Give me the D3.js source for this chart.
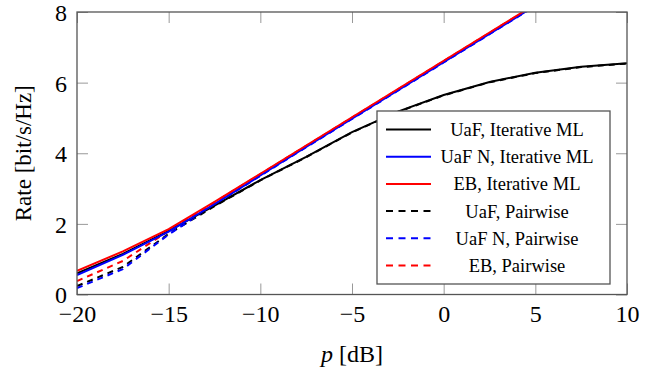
<!DOCTYPE html>
<html>
<head>
<meta charset="utf-8">
<script src="https://cdn.jsdelivr.net/npm/d3@7"></script>
<style>
  body { margin: 0; background: #fff; }
  text { font-family: "Liberation Serif", "Times New Roman", serif; }
</style>
</head>
<body>
<div id="chart"></div>
<script>
// SNR grid [dB]
var pdB = [-20, -17.5, -15, -12.5, -10, -7.5, -5, -2.5, 0, 2.5, 5, 7.5, 10];

// rates [bit/s/Hz]
var uafIter   = [0.60, 1.15, 1.80, 2.52, 3.24, 3.90, 4.60, 5.18, 5.65, 6.02, 6.28, 6.45, 6.55];
var uafNIter  = [0.55, 1.12, 1.78, 2.56, 3.37, 4.18, 4.98, 5.78, 6.58, 7.38, 8.18, 8.98, 9.78];
var ebIter    = [0.67, 1.22, 1.85, 2.62, 3.42, 4.22, 5.02, 5.82, 6.62, 7.42, 8.22, 9.02, 9.82];
var uafPair   = [0.24, 0.78, 1.72, 2.50, 3.23, 3.89, 4.59, 5.17, 5.64, 6.01, 6.27, 6.44, 6.54];
var uafNPair  = [0.18, 0.72, 1.70, 2.55, 3.36, 4.17, 4.97, 5.77, 6.57, 7.37, 8.17, 8.97, 9.77];
var ebPair    = [0.38, 0.95, 1.80, 2.61, 3.41, 4.21, 5.01, 5.81, 6.61, 7.41, 8.21, 9.01, 9.81];

var seriesNames = ["UaF, Iterative ML", "UaF N, Iterative ML", "EB, Iterative ML",
                   "UaF, Pairwise", "UaF N, Pairwise", "EB, Pairwise"];
var seriesVals = [uafIter, uafNIter, ebIter, uafPair, uafNPair, ebPair];
var seriesColors = ["#000", "#0000ff", "#ff0000", "#000", "#0000ff", "#ff0000"];
var seriesDashed = [false, false, false, true, true, true];

var xTicks = [-20, -15, -10, -5, 0, 5, 10];
var yTicks = [0, 2, 4, 6, 8];

var W = 662, H = 375;
var pL = 77, pR = 627, pT = 12, pB = 294.5;

var svg = d3.select("#chart").append("svg")
    .attr("width", W).attr("height", H);

var x = d3.scaleLinear().domain([-20, 10]).range([pL, pR]);
var y = d3.scaleLinear().domain([0, 8]).range([pB, pT]);

svg.append("defs").append("clipPath").attr("id", "clip")
  .append("rect")
  .attr("x", pL).attr("y", pT)
  .attr("width", pR - pL).attr("height", pB - pT);

var tickLen = 11;
var fmt = function(d) { return d < 0 ? "\u2212" + Math.abs(d) : "" + d; };

// bottom axis + inward ticks
var xb = svg.append("g")
    .attr("transform", "translate(0," + pB + ")")
    .call(d3.axisBottom(x).tickValues(xTicks).tickSize(-tickLen).tickPadding(10).tickFormat(fmt));
// top ticks
var xt = svg.append("g")
    .attr("transform", "translate(0," + pT + ")")
    .call(d3.axisTop(x).tickValues(xTicks).tickSize(-tickLen).tickFormat(""));
// left axis
var yl = svg.append("g")
    .attr("transform", "translate(" + pL + ",0)")
    .call(d3.axisLeft(y).tickValues(yTicks).tickSize(-tickLen).tickPadding(10).tickFormat(fmt));
// right ticks
var yr = svg.append("g")
    .attr("transform", "translate(" + pR + ",0)")
    .call(d3.axisRight(y).tickValues(yTicks).tickSize(-tickLen).tickFormat(""));

[xb, xt, yl, yr].forEach(function(g) {
  g.select(".domain").remove();
  g.selectAll(".tick line").attr("stroke", "#999").attr("stroke-width", 1);
  g.selectAll(".tick text")
    .style("font-family", "'Liberation Serif', serif")
    .style("font-size", "24px")
    .attr("fill", "#000");
});
yl.selectAll(".tick text").attr("dy", "0.35em");
xb.selectAll(".tick text").attr("dy", "0.71em");

var line = d3.line()
    .x(function(d, i) { return x(pdB[i]); })
    .y(function(d) { return y(d); });

var plot = svg.append("g").attr("clip-path", "url(#clip)");
// dashed first, solid on top
var order = [3, 4, 5, 0, 1, 2];
order.forEach(function(k) {
  plot.append("path")
    .datum(seriesVals[k])
    .attr("fill", "none")
    .attr("stroke", seriesColors[k])
    .attr("stroke-width", 2)
    .attr("stroke-dasharray", seriesDashed[k] ? "6,5" : null)
    .attr("d", line);
});

// frame
svg.append("rect")
  .attr("x", pL).attr("y", pT)
  .attr("width", pR - pL).attr("height", pB - pT)
  .attr("fill", "none").attr("stroke", "#555").attr("stroke-width", 1.3);

// legend
var lg = svg.append("g");
lg.append("rect")
  .attr("x", 377).attr("y", 111)
  .attr("width", 233).attr("height", 173)
  .attr("fill", "#fff").attr("stroke", "#555").attr("stroke-width", 1.3);

seriesNames.forEach(function(name, i) {
  var yy = 129.5 + i * 27.2;
  lg.append("line")
    .attr("x1", 386).attr("x2", 431)
    .attr("y1", yy).attr("y2", yy)
    .attr("stroke", seriesColors[i])
    .attr("stroke-width", 2)
    .attr("stroke-dasharray", seriesDashed[i] ? "7,5.5" : null);
  lg.append("text")
    .attr("x", 517).attr("y", yy)
    .attr("dy", "0.35em")
    .attr("text-anchor", "middle")
    .style("font-size", "18.5px")
    .text(name);
});

// axis titles
var xl = svg.append("text")
  .attr("x", (pL + pR) / 2).attr("y", 362)
  .attr("text-anchor", "middle")
  .style("font-size", "24px");
xl.append("tspan").style("font-style", "italic").text("p");
xl.append("tspan").text("  [dB]");

svg.append("text")
  .attr("transform", "translate(31," + (pT + pB) / 2 + ") rotate(-90)")
  .attr("text-anchor", "middle")
  .style("font-size", "23px")
  .text("Rate [bit/s/Hz]");
</script>
</body>
</html>
